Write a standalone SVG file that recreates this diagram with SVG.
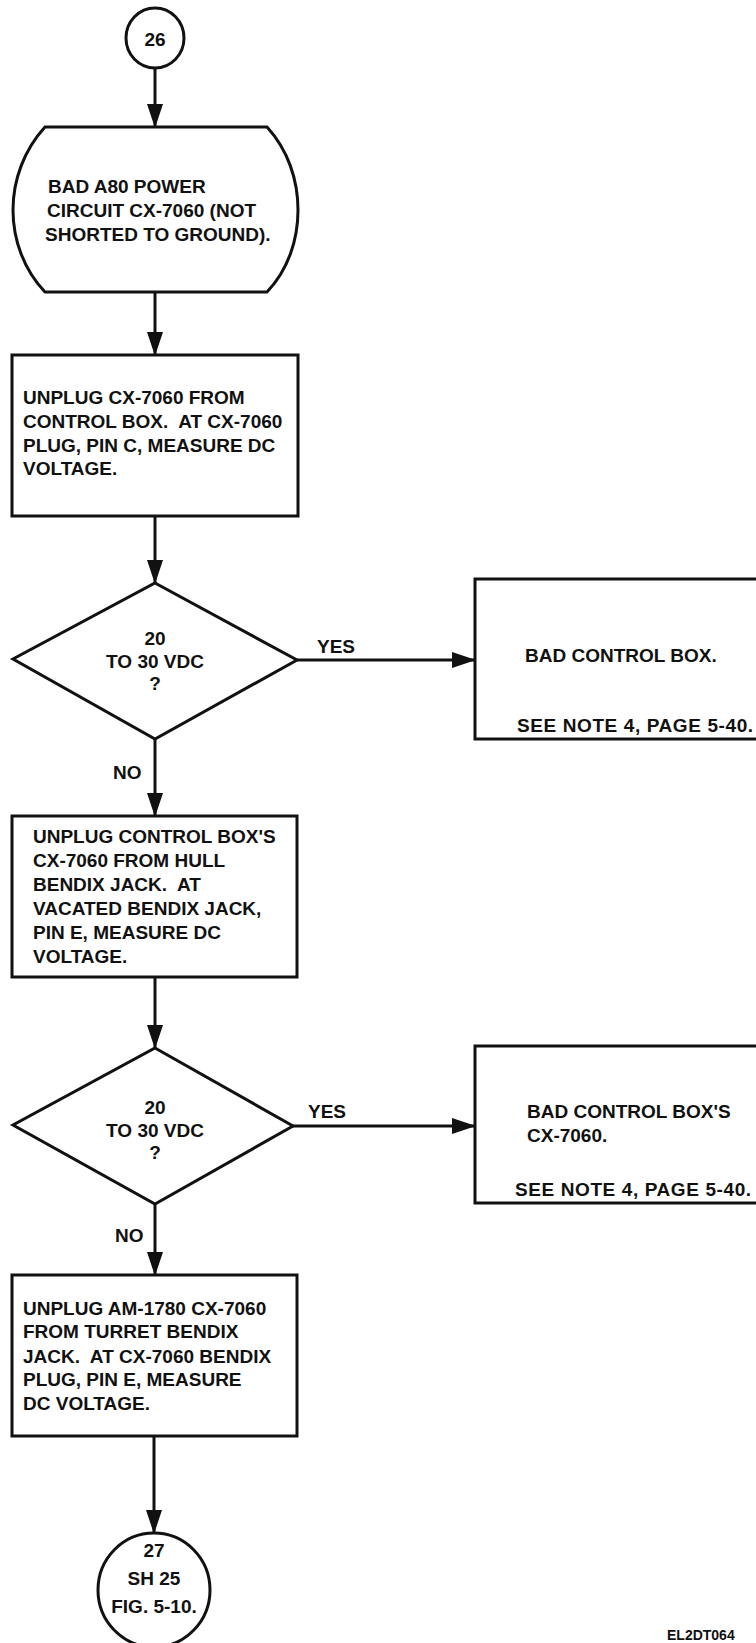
<svg xmlns="http://www.w3.org/2000/svg" width="756" height="1643" viewBox="0 0 756 1643">
<style>
.s{fill:#fff;stroke:#111;stroke-width:3}
.c{fill:none;stroke:#111;stroke-width:3}
.t{font-family:"Liberation Sans",Arial,sans-serif;font-weight:bold;font-size:19px;fill:#111;white-space:pre}
.m{text-anchor:middle}
</style>
<defs>
<marker id="ah" markerUnits="userSpaceOnUse" markerWidth="24" markerHeight="16" refX="23" refY="8" orient="auto">
<path d="M0,0 L24,8 L0,16 Z" fill="#111"/>
</marker>
</defs>
<rect width="756" height="1643" fill="#fff"/>
<g id="connectors">
<line class="c" x1="155" y1="68" x2="155" y2="127" marker-end="url(#ah)"/>
<line class="c" x1="155" y1="292" x2="155" y2="355" marker-end="url(#ah)"/>
<line class="c" x1="155" y1="516" x2="155" y2="583" marker-end="url(#ah)"/>
<line class="c" x1="297" y1="660" x2="475" y2="660" marker-end="url(#ah)"/>
<text class="t" x="317" y="653">YES</text>
<line class="c" x1="155" y1="739" x2="155" y2="816" marker-end="url(#ah)"/>
<text class="t" x="113" y="779">NO</text>
<line class="c" x1="155" y1="977" x2="155" y2="1048" marker-end="url(#ah)"/>
<line class="c" x1="293" y1="1126" x2="475" y2="1126" marker-end="url(#ah)"/>
<text class="t" x="308" y="1118">YES</text>
<line class="c" x1="155" y1="1204" x2="155" y2="1275" marker-end="url(#ah)"/>
<text class="t" x="115" y="1242">NO</text>
<line class="c" x1="154" y1="1436" x2="154" y2="1533" marker-end="url(#ah)"/>
</g>
<g id="start26">
<ellipse class="s" cx="155" cy="38" rx="29" ry="30"/>
<text class="t m" x="155" y="46">26</text>
</g>
<g id="terminal">
<path class="s" d="M45,127 L267,127 C288,150 298,180 298,210 C298,240 288,270 267,292 L45,292 C24,270 13,240 13,210 C13,180 24,150 45,127 Z"/>
<text class="t" x="48" y="193">BAD A80 POWER</text>
<text class="t" x="47" y="217">CIRCUIT CX-7060 (NOT</text>
<text class="t" x="45" y="241">SHORTED TO GROUND).</text>
</g>
<g id="box1">
<rect class="s" x="12" y="355" width="286" height="161"/>
<text class="t" x="23" y="404">UNPLUG CX-7060 FROM</text>
<text class="t" x="23" y="428" xml:space="preserve">CONTROL BOX.  AT CX-7060</text>
<text class="t" x="23" y="452">PLUG, PIN C, MEASURE DC</text>
<text class="t" x="23" y="475">VOLTAGE.</text>
</g>
<g id="decision1">
<path class="s" d="M155,583 L297,660 L155,739 L13,659 Z"/>
<text class="t m" x="155" y="645">20</text>
<text class="t m" x="155" y="668">TO 30 VDC</text>
<text class="t m" x="155" y="690">?</text>
</g>
<g id="result1">
<rect class="s" x="475" y="579" width="300" height="160"/>
<text class="t" x="525" y="662">BAD CONTROL BOX.</text>
<text class="t" x="517" y="732" letter-spacing="0.6">SEE NOTE 4, PAGE 5-40.</text>
</g>
<g id="box2">
<rect class="s" x="12" y="816" width="285" height="161"/>
<text class="t" x="33" y="843">UNPLUG CONTROL BOX'S</text>
<text class="t" x="33" y="867">CX-7060 FROM HULL</text>
<text class="t" x="33" y="891" xml:space="preserve">BENDIX JACK.  AT</text>
<text class="t" x="33" y="915">VACATED BENDIX JACK,</text>
<text class="t" x="33" y="939">PIN E, MEASURE DC</text>
<text class="t" x="33" y="963">VOLTAGE.</text>
</g>
<g id="decision2">
<path class="s" d="M155,1048 L293,1126 L155,1204 L13,1125 Z"/>
<text class="t m" x="155" y="1114">20</text>
<text class="t m" x="155" y="1137">TO 30 VDC</text>
<text class="t m" x="155" y="1159">?</text>
</g>
<g id="result2">
<rect class="s" x="475" y="1046" width="300" height="157"/>
<text class="t" x="527" y="1118">BAD CONTROL BOX'S</text>
<text class="t" x="527" y="1142">CX-7060.</text>
<text class="t" x="515" y="1196" letter-spacing="0.6">SEE NOTE 4, PAGE 5-40.</text>
</g>
<g id="box3">
<rect class="s" x="12" y="1275" width="285" height="161"/>
<text class="t" x="23" y="1315">UNPLUG AM-1780 CX-7060</text>
<text class="t" x="23" y="1338">FROM TURRET BENDIX</text>
<text class="t" x="23" y="1363" xml:space="preserve">JACK.  AT CX-7060 BENDIX</text>
<text class="t" x="23" y="1386">PLUG, PIN E, MEASURE</text>
<text class="t" x="23" y="1410">DC VOLTAGE.</text>
</g>
<g id="end27">
<ellipse class="s" cx="154" cy="1590" rx="56" ry="57"/>
<text class="t m" x="154" y="1557">27</text>
<text class="t m" x="154" y="1585">SH 25</text>
<text class="t m" x="154" y="1613">FIG. 5-10.</text>
</g>
<g id="label">
<text class="t" x="667" y="1640" style="font-size:14px">EL2DT064</text>
</g>
</svg>
